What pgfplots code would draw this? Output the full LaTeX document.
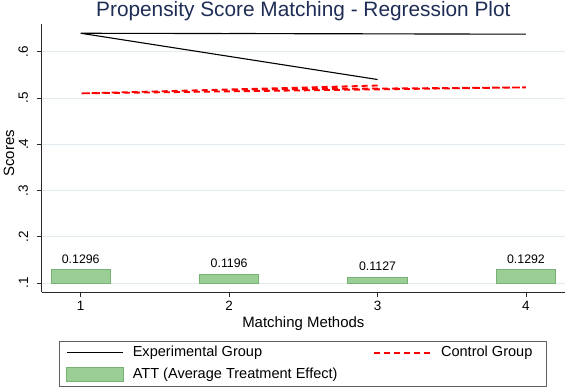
\documentclass[border=0pt]{standalone}
\usepackage{fontspec}
\setmainfont{Liberation Sans}
\usepackage{pgfplots}
\usepackage{pgfplotstable}
\pgfplotsset{compat=1.18}

\definecolor{titlenavy}{RGB}{30,45,85}
\definecolor{gridblue}{RGB}{226,235,239}
\definecolor{attfill}{RGB}{155,205,150}
\definecolor{attedge}{RGB}{118,178,114}
\definecolor{legframe}{RGB}{95,95,95}
\definecolor{axisgray}{RGB}{40,40,40}

% Experimental and control group scores by matching method (drawn in data order)
\pgfplotstableread{
x y
3 0.540
1 0.640
4 0.638
2 0.6395
}\experimental
\pgfplotstableread{
x y
3 0.527
1 0.510
4 0.523
2 0.518
}\control
% Average treatment effect on the treated
\pgfplotstableread{
x att label
1 0.1296 0.1296
2 0.1196 0.1196
3 0.1127 0.1127
4 0.1292 0.1292
}\att

\newcommand{\attbar}[2]{%
  \addplot[fill=attfill, draw=attedge, line width=0.8bp, forget plot]
    coordinates {(#1-0.2,0.1) (#1-0.2,#2) (#1+0.2,#2) (#1+0.2,0.1)} -- cycle;}

\pgfplotsset{seglegend/.style={legend image code/.code={\draw[##1] (0bp,0bp) -- (56.7bp,0bp);}}}

\begin{document}
\begin{tikzpicture}
\useasboundingbox (-41.7bp,-97.7bp) rectangle (525.3bp,292.3bp);
\begin{axis}[
  scale only axis,
  width=523.3bp, height=268.3bp,
  xmin=0.737, xmax=4.263, ymin=0.08, ymax=0.66,
  axis x line=bottom, axis y line=left,
  axis line style={-, line width=0.9bp, axisgray},
  xtick={1,2,3,4},
  ytick={0.1,0.2,0.3,0.4,0.5,0.6},
  yticklabels={.1,.2,.3,.4,.5,.6},
  tick align=outside, major tick length=5bp,
  tick style={line width=0.9bp, axisgray},
  ymajorgrids, grid style={gridblue, line width=0.9bp},
  /pgf/number format/assume math mode=true,
  xticklabel style={font=\fontsize{13.5}{15}\selectfont},
  yticklabel style={font=\fontsize{13.5}{15}\selectfont, rotate=90, anchor=south,
    inner xsep=0pt, inner ysep=8.4bp},
  title={Propensity Score Matching - Regression Plot},
  every axis title/.style={at={(axis description cs:0.5,1.0272)}, anchor=base,
    font=\fontsize{20.9}{23}\selectfont, text=titlenavy, inner sep=0pt},
  xlabel={Matching Methods},
  xlabel style={at={(axis description cs:0.5,-0.1182)}, anchor=center,
    font=\fontsize{15}{17}\selectfont},
  ylabel={Scores},
  ylabel style={at={(axis description cs:-0.0625,0.5175)}, anchor=center,
    font=\fontsize{15}{17}\selectfont},
  legend columns=2,
  legend cell align=left,
  legend style={at={(axis description cs:0.0336,-0.1804)}, anchor=north west,
    draw=legframe, line width=0.8bp, font=\fontsize{14.6}{16}\selectfont,
    inner xsep=6.3bp, inner ysep=4.6bp, row sep=7.2bp,
    nodes={inner sep=0pt, text height=10.5bp, text depth=3.5bp},
    /tikz/every odd column/.append style={column sep=9bp},
    /tikz/every even column/.append style={column sep=36bp}},
]
\attbar{1}{0.1296}
\attbar{2}{0.1196}
\attbar{3}{0.1127}
\attbar{4}{0.1292}

\addplot[draw=none, forget plot, nodes near coords, point meta=explicit symbolic,
  every node near coord/.style={anchor=south, inner sep=0pt, yshift=6bp,
    font=\fontsize{12.4}{14}\selectfont, text=black}]
  table[x=x, y=att, meta=label] {\att};

\addplot[black, line width=1.1bp, seglegend] table[x=x, y=y] {\experimental};
\addlegendentry{Experimental Group}
\addplot[red, line width=1.8bp, dash pattern=on 6bp off 4bp, seglegend] table[x=x, y=y] {\control};
\addlegendentry{Control Group\hspace*{8bp}}
\addlegendimage{legend image code/.code={\draw[fill=attfill, draw=attedge, line width=0.8bp] (0bp,-7.2bp) rectangle (56.7bp,7.2bp);}}
\addlegendentry{ATT (Average Treatment Effect)}
\end{axis}
\end{tikzpicture}
\end{document}
